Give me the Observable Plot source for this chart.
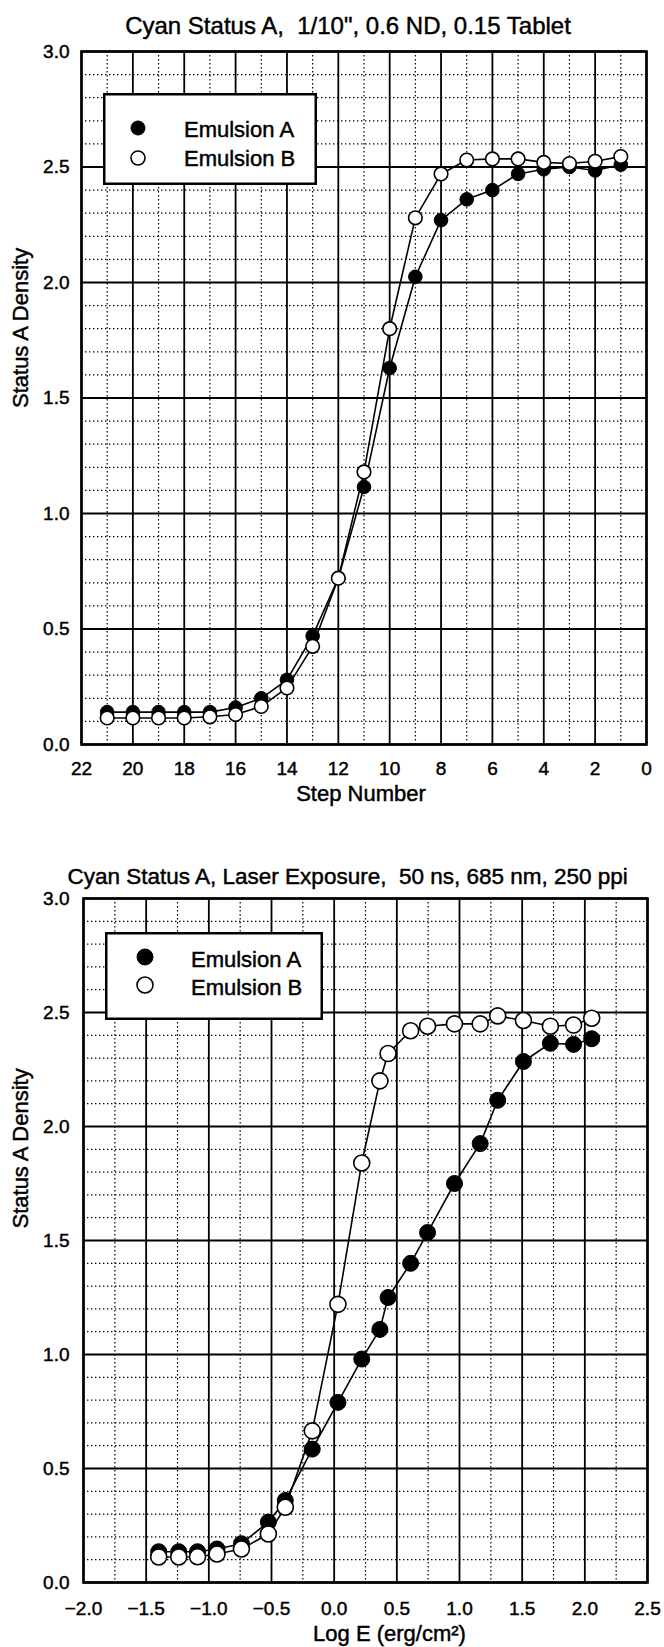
<!DOCTYPE html>
<html>
<head>
<meta charset="utf-8">
<script src="https://cdn.jsdelivr.net/npm/d3@7"></script>
<script src="https://cdn.jsdelivr.net/npm/@observablehq/plot@0.6"></script>
<style>
  html, body { margin: 0; padding: 0; background: #fff; }
  #page { position: relative; width: 664px; height: 1647px; overflow: hidden; background: #fff; }
  .chart { position: absolute; left: 0; }
  .legend { position: absolute; }
  #page text { stroke: #000; stroke-width: 0.45px; }
</style>
</head>
<body>
<div id="page"></div>
<script>
// ---------- data ----------
const stepNumbers   = [21, 20, 19, 18, 17, 16, 15, 14, 13, 12, 11, 10, 9, 8, 7, 6, 5, 4, 3, 2, 1];
const topEmulsionA  = [0.14, 0.14, 0.14, 0.14, 0.14, 0.16, 0.20, 0.28, 0.47, 0.72, 1.115, 1.63, 2.025, 2.27, 2.36, 2.40, 2.47, 2.49, 2.50, 2.485, 2.51];
const topEmulsionB  = [0.115, 0.115, 0.115, 0.115, 0.12, 0.13, 0.165, 0.245, 0.425, 0.72, 1.18, 1.80, 2.28, 2.47, 2.53, 2.535, 2.535, 2.52, 2.515, 2.525, 2.545];

const logE             = [-1.40, -1.24, -1.09, -0.935, -0.74, -0.525, -0.39, -0.175, 0.03, 0.22, 0.365, 0.43, 0.61, 0.745, 0.96, 1.165, 1.305, 1.51, 1.725, 1.91, 2.055];
const bottomEmulsionA  = [0.135, 0.135, 0.135, 0.147, 0.17, 0.265, 0.36, 0.585, 0.79, 0.98, 1.11, 1.25, 1.40, 1.535, 1.75, 1.925, 2.115, 2.285, 2.365, 2.36, 2.385];
const bottomEmulsionB  = [0.112, 0.112, 0.113, 0.125, 0.147, 0.213, 0.33, 0.665, 1.22, 1.84, 2.20, 2.32, 2.42, 2.44, 2.45, 2.45, 2.485, 2.465, 2.44, 2.445, 2.475];

const stepTicks    = [22, 20, 18, 16, 14, 12, 10, 8, 6, 4, 2, 0];
const stepMinor    = [21, 19, 17, 15, 13, 11, 9, 7, 5, 3, 1];
const densityTicks = [0, 0.5, 1.0, 1.5, 2.0, 2.5, 3.0];
const densityMinor = [0.1, 0.2, 0.3, 0.4, 0.6, 0.7, 0.8, 0.9, 1.1, 1.2, 1.3, 1.4, 1.6, 1.7, 1.8, 1.9, 2.1, 2.2, 2.3, 2.4, 2.6, 2.7, 2.8, 2.9];
const logETicks    = [-2.0, -1.5, -1.0, -0.5, 0.0, 0.5, 1.0, 1.5, 2.0, 2.5];
const logEMinor    = [-1.75, -1.25, -0.75, -0.25, 0.25, 0.75, 1.25, 1.75, 2.25];

const seriesNames  = ["Emulsion A", "Emulsion B"];
const topTitle     = "Cyan Status A,\u00A0 1/10\", 0.6 ND, 0.15 Tablet";
const bottomTitle  = "Cyan Status A, Laser Exposure,\u00A0 50 ns, 685 nm, 250 ppi";
const yLabel       = "Status A Density";
const topXLabel    = "Step Number";
const bottomXLabel = "Log E (erg/cm\u00B2)";

// ---------- helpers ----------
const FONT = "'Liberation Sans', Arial, Helvetica, sans-serif";
const fmt1 = d3.format(".1f");
const dotted = {stroke: "#000", strokeWidth: 1.2, strokeDasharray: "1.4,2.6"};
const solid  = {stroke: "#000", strokeWidth: 1.8};

const topRows = stepNumbers.map((s, i) => ({step: s, A: topEmulsionA[i], B: topEmulsionB[i]}));
const bottomRows = logE.map((e, i) => ({logE: e, A: bottomEmulsionA[i], B: bottomEmulsionB[i]}));

const page = document.getElementById("page");

function place(svg, top) {
  const wrap = document.createElement("div");
  wrap.className = "chart";
  wrap.style.top = top + "px";
  wrap.appendChild(svg);
  page.appendChild(wrap);
}

function legend(left, top, w, h, cx, cy1, cy2, r, tx, b1, b2) {
  const div = document.createElement("div");
  div.className = "legend";
  div.style.left = left + "px";
  div.style.top = top + "px";
  div.innerHTML = `
  <svg width="${w}" height="${h}" style="display:block;font-family:${FONT.replace(/"/g, "'")}">
    <rect x="1.25" y="1.25" width="${w - 2.5}" height="${h - 2.5}" fill="#fff" stroke="#000" stroke-width="2.5"/>
    <circle cx="${cx}" cy="${cy1}" r="${r}" fill="#000" stroke="#000" stroke-width="1"/>
    <circle cx="${cx}" cy="${cy2}" r="${r}" fill="#fff" stroke="#000" stroke-width="1.6"/>
    <text x="${tx}" y="${b1}" font-size="22" fill="#000">${seriesNames[0]}</text>
    <text x="${tx}" y="${b2}" font-size="22" fill="#000">${seriesNames[1]}</text>
  </svg>`;
  page.appendChild(div);
}

// ---------- top chart ----------
const topChart = Plot.plot({
  width: 664,
  height: 812,
  marginLeft: 81,
  marginRight: 18,
  marginTop: 51,
  marginBottom: 68,
  style: {fontFamily: FONT, fontSize: "19px", color: "#000", background: "transparent", overflow: "visible"},
  x: {domain: [22, 0], label: null},
  y: {domain: [0, 3], label: null},
  marks: [
    Plot.ruleX(stepMinor, dotted),
    Plot.ruleY(densityMinor, dotted),
    Plot.ruleX(stepTicks, solid),
    Plot.ruleY(densityTicks, solid),
    Plot.frame({stroke: "#000", strokeWidth: 2.6}),
    Plot.axisX({ticks: stepTicks, tickFormat: d => String(d), tickSize: 0, tickPadding: 17, fontSize: 19, label: null}),
    Plot.axisY({ticks: densityTicks, tickFormat: fmt1, tickSize: 0, tickPadding: 12, fontSize: 19, label: null}),
    Plot.line(topRows, {x: "step", y: "A", stroke: "#000", strokeWidth: 1.6}),
    Plot.dot(topRows, {x: "step", y: "A", r: 6.8, fill: "#000", stroke: "#000", strokeWidth: 1}),
    Plot.line(topRows, {x: "step", y: "B", stroke: "#000", strokeWidth: 1.6}),
    Plot.dot(topRows, {x: "step", y: "B", r: 6.8, fill: "#fff", stroke: "#000", strokeWidth: 1.6}),
    Plot.text([topTitle], {frameAnchor: "top", dx: -16, dy: -18, lineAnchor: "bottom", fontSize: 24}),
    Plot.text([topXLabel], {frameAnchor: "bottom", dx: -3, dy: 56, lineAnchor: "bottom", fontSize: 22}),
    Plot.text([yLabel], {frameAnchor: "left", dx: -61, dy: 10, rotate: -90, lineAnchor: "middle", fontSize: 22})
  ]
});
place(topChart, 0);

// ---------- bottom chart ----------
const bottomChart = Plot.plot({
  width: 664,
  height: 797,
  marginLeft: 83,
  marginRight: 17,
  marginTop: 48,
  marginBottom: 65,
  style: {fontFamily: FONT, fontSize: "19px", color: "#000", background: "transparent", overflow: "visible"},
  x: {domain: [-2, 2.5], label: null},
  y: {domain: [0, 3], label: null},
  marks: [
    Plot.ruleX(logEMinor, dotted),
    Plot.ruleY(densityMinor, dotted),
    Plot.ruleX(logETicks, solid),
    Plot.ruleY(densityTicks, solid),
    Plot.frame({stroke: "#000", strokeWidth: 2.6}),
    Plot.axisX({ticks: logETicks, tickFormat: fmt1, tickSize: 0, tickPadding: 19, fontSize: 19, label: null}),
    Plot.axisY({ticks: densityTicks, tickFormat: fmt1, tickSize: 0, tickPadding: 14, fontSize: 19, label: null}),
    Plot.line(bottomRows, {x: "logE", y: "A", stroke: "#000", strokeWidth: 1.6}),
    Plot.dot(bottomRows, {x: "logE", y: "A", r: 8, fill: "#000", stroke: "#000", strokeWidth: 1}),
    Plot.line(bottomRows, {x: "logE", y: "B", stroke: "#000", strokeWidth: 1.6}),
    Plot.dot(bottomRows, {x: "logE", y: "B", r: 8, fill: "#fff", stroke: "#000", strokeWidth: 1.6}),
    Plot.text([bottomTitle], {frameAnchor: "top-left", textAnchor: "start", dx: -16, dy: -15, lineAnchor: "bottom", fontSize: 22.5}),
    Plot.text([bottomXLabel], {frameAnchor: "bottom", dx: 24, dy: 58, lineAnchor: "bottom", fontSize: 22}),
    Plot.text([yLabel], {frameAnchor: "left", dx: -63, dy: -12, rotate: -90, lineAnchor: "middle", fontSize: 22})
  ]
});
place(bottomChart, 850);

// ---------- legends ----------
legend(103, 93, 214, 92, 35, 35, 65, 7, 81, 44, 73);
legend(105, 932, 218, 88, 40, 25, 53, 8, 86, 35, 63);
</script>
</body>
</html>
